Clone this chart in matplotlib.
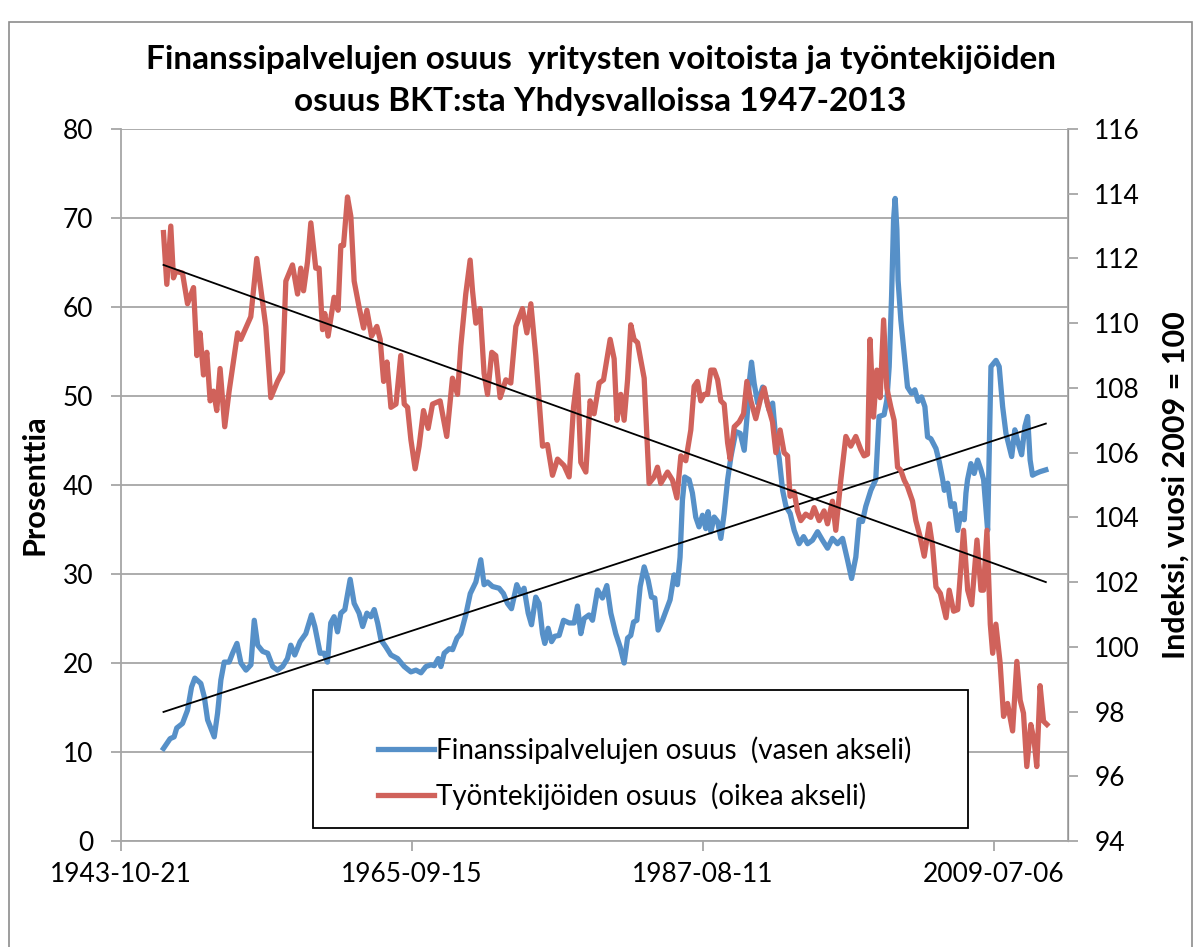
import numpy as np
import matplotlib
matplotlib.use("Agg")
import matplotlib.pyplot as plt
import matplotlib.dates as mdates
from matplotlib.patches import Rectangle
from datetime import datetime

plt.rcParams["font.family"] = ["Lato", "DejaVu Sans"]

# data (decimal year, value)
fin_years = [
    1947.00, 1947.50, 1947.80, 1948.00, 1948.43, 1948.81, 1949.11, 1949.36, 1949.81, 1950.07,
    1950.32, 1950.56, 1950.82, 1951.07, 1951.32, 1951.57, 1951.94, 1952.20, 1952.53, 1952.83,
    1953.21, 1953.58, 1953.83, 1954.09, 1954.47, 1954.84, 1955.22, 1955.58, 1955.96, 1956.33,
    1956.58, 1956.88, 1957.28, 1957.71, 1958.14, 1958.39, 1958.79, 1959.09, 1959.34, 1959.59,
    1959.84, 1960.10, 1960.35, 1960.65, 1961.05, 1961.35, 1961.72, 1961.99, 1962.31, 1962.61,
    1962.86, 1963.12, 1963.37, 1963.74, 1964.12, 1964.62, 1965.12, 1965.62, 1966.00, 1966.38,
    1966.75, 1967.13, 1967.38, 1967.68, 1967.88, 1968.13, 1968.51, 1968.76, 1969.09, 1969.38,
    1969.75, 1970.09, 1970.51, 1970.88, 1971.13, 1971.39, 1971.76, 1972.26, 1972.59, 1972.89,
    1973.19, 1973.59, 1973.89, 1974.14, 1974.45, 1974.70, 1975.02, 1975.27, 1975.53, 1975.70,
    1975.95, 1976.21, 1976.45, 1976.78, 1977.11, 1977.53, 1977.91, 1978.16, 1978.41, 1978.66,
    1979.03, 1979.29, 1979.67, 1980.04, 1980.37, 1980.67, 1981.04, 1981.37, 1981.67, 1981.93,
    1982.17, 1982.38, 1982.63, 1982.88, 1983.18, 1983.48, 1983.73, 1983.98, 1984.23, 1984.56,
    1984.81, 1985.13, 1985.43, 1985.68, 1985.88, 1986.06, 1986.23, 1986.56, 1986.81, 1987.06,
    1987.31, 1987.57, 1987.82, 1987.99, 1988.20, 1988.45, 1988.71, 1988.95, 1989.20, 1989.46,
    1989.71, 1990.08, 1990.41, 1990.71, 1990.96, 1991.08, 1991.26, 1991.46, 1991.72, 1992.10,
    1992.34, 1992.59, 1992.85, 1993.09, 1993.34, 1993.60, 1993.85, 1994.17, 1994.47, 1994.84,
    1995.18, 1995.48, 1995.85, 1996.23, 1996.60, 1996.98, 1997.35, 1997.73, 1998.11, 1998.48,
    1998.79, 1999.11, 1999.36, 1999.61, 1999.86, 2000.24, 2000.61, 2000.86, 2001.24, 2001.45,
    2001.62, 2001.80, 2001.95, 2002.07, 2002.20, 2002.29, 2002.50, 2002.75, 2003.00, 2003.30,
    2003.55, 2003.80, 2004.06, 2004.31, 2004.51, 2004.76, 2005.14, 2005.39, 2005.65, 2005.77,
    2006.02, 2006.27, 2006.52, 2006.78, 2007.02, 2007.27, 2007.40, 2007.52, 2007.77, 2008.02,
    2008.28, 2008.53, 2008.73, 2009.03, 2009.28, 2009.66, 2009.90, 2010.16, 2010.41, 2010.66,
    2010.84, 2011.08, 2011.33, 2011.59, 2011.84, 2012.04, 2012.23, 2012.41, 2012.66, 2012.98,
    2013.41,
]
fin_share = [
    10.4, 11.5, 11.7, 12.7, 13.2, 14.7, 17.3, 18.3, 17.7, 16.2,
    13.6, 12.7, 11.7, 14.35, 18.1, 20.1, 20.1, 21.1, 22.2, 20.0,
    19.2, 19.8, 24.8, 22.0, 21.3, 21.1, 19.6, 19.2, 19.6, 20.5,
    22.0, 20.9, 22.4, 23.3, 25.4, 24.1, 21.1, 21.1, 20.1, 24.5,
    25.2, 23.5, 25.6, 26.0, 29.4, 26.7, 25.6, 24.1, 25.6, 25.2,
    26.0, 24.5, 22.6, 21.8, 20.9, 20.5, 19.6, 19.0, 19.2, 18.9,
    19.6, 19.8, 19.7, 20.5, 19.6, 21.1, 21.6, 21.5, 22.8, 23.3,
    25.4, 27.8, 29.1, 31.6, 28.8, 29.1, 28.6, 28.4, 27.8, 26.7,
    26.1, 28.8, 27.8, 28.4, 25.6, 24.3, 27.4, 26.7, 23.3, 22.2,
    23.9, 22.4, 23.0, 23.1, 24.8, 24.5, 24.5, 26.4, 23.3, 25.0,
    25.4, 24.8, 28.2, 27.3, 28.7, 25.6, 23.3, 21.8, 20.0, 22.8,
    23.1, 24.6, 24.8, 28.6, 30.8, 29.3, 27.4, 27.3, 23.7, 24.8,
    25.8, 27.1, 29.9, 28.8, 31.9, 38.3, 40.9, 40.6, 39.1, 36.4,
    35.3, 36.6, 35.1, 37.0, 34.75, 36.4, 35.9, 34.0, 36.8, 40.6,
    43.2, 46.0, 45.8, 43.9, 48.4, 51.4, 53.8, 51.4, 49.2, 51.0,
    49.9, 48.4, 49.2, 45.1, 43.0, 39.4, 37.6, 36.8, 34.9, 33.4,
    34.2, 33.4, 33.8, 34.75, 33.8, 32.9, 34.0, 33.4, 34.0, 31.6,
    29.5, 31.9, 36.1, 35.9, 37.6, 39.4, 40.6, 47.7, 47.9, 49.6,
    53.3, 61.2, 69.8, 72.2, 68.7, 63.0, 58.5, 54.8, 51.0, 50.3,
    50.7, 49.4, 49.9, 48.8, 45.4, 45.2, 44.1, 42.6, 40.6, 39.4,
    40.2, 37.6, 37.9, 34.9, 36.8, 36.1, 39.1, 40.6, 42.4, 41.3,
    42.8, 41.7, 40.6, 34.9, 53.3, 54.0, 53.3, 48.8, 45.8, 44.3,
    43.2, 46.2, 44.7, 43.4, 46.6, 47.7, 42.8, 41.1, 41.3, 41.5,
    41.7,
]

lab_years = [
    1947.00, 1947.25, 1947.55, 1947.75, 1947.93, 1948.43, 1948.81, 1949.26, 1949.51, 1949.75,
    1950.01, 1950.26, 1950.51, 1950.76, 1951.01, 1951.26, 1951.61, 1951.94, 1952.58, 1952.82,
    1953.57, 1954.02, 1954.70, 1955.08, 1955.58, 1955.96, 1956.21, 1956.71, 1957.09, 1957.33,
    1957.54, 1957.84, 1958.09, 1958.46, 1958.71, 1958.97, 1959.14, 1959.39, 1959.84, 1960.14,
    1960.35, 1960.55, 1960.85, 1961.10, 1961.35, 1961.72, 1962.06, 1962.31, 1962.66, 1963.06,
    1963.31, 1963.57, 1963.82, 1964.12, 1964.50, 1964.86, 1965.12, 1965.37, 1965.62, 1965.94,
    1966.24, 1966.57, 1966.92, 1967.25, 1967.82, 1968.32, 1968.75, 1969.13, 1969.38, 1969.75,
    1970.08, 1970.26, 1970.51, 1970.83, 1971.13, 1971.39, 1971.71, 1972.01, 1972.34, 1972.77,
    1973.14, 1973.52, 1974.02, 1974.35, 1974.65, 1975.02, 1975.53, 1975.90, 1976.28, 1976.66,
    1977.15, 1977.53, 1977.86, 1978.16, 1978.41, 1978.79, 1979.11, 1979.41, 1979.79, 1980.12,
    1980.62, 1980.92, 1981.13, 1981.42, 1981.67, 1981.93, 1982.17, 1982.42, 1982.68, 1983.18,
    1983.55, 1983.93, 1984.18, 1984.43, 1984.94, 1985.31, 1985.64, 1985.94, 1986.31, 1986.69,
    1986.94, 1987.19, 1987.44, 1987.69, 1987.95, 1988.20, 1988.45, 1988.71, 1988.95, 1989.20,
    1989.46, 1989.65, 1989.96, 1990.33, 1990.66, 1990.91, 1991.21, 1991.58, 1991.96, 1992.21,
    1992.46, 1992.84, 1993.09, 1993.41, 1993.71, 1993.97, 1994.16, 1994.46, 1994.72, 1994.97,
    1995.34, 1995.72, 1995.97, 1996.35, 1996.72, 1996.98, 1997.35, 1997.60, 1997.98, 1998.36,
    1998.73, 1999.11, 1999.48, 1999.73, 1999.99, 2000.18, 2000.44, 2000.69, 2000.94, 2001.20,
    2001.44, 2001.75, 2001.99, 2002.25, 2002.50, 2002.75, 2003.00, 2003.38, 2003.63, 2003.95,
    2004.26, 2004.64, 2004.89, 2005.14, 2005.47, 2005.90, 2006.14, 2006.47, 2006.78, 2007.22,
    2007.53, 2007.83, 2008.23, 2008.53, 2008.72, 2008.98, 2009.23, 2009.41, 2009.65, 2009.97,
    2010.23, 2010.53, 2010.91, 2011.23, 2011.48, 2011.73, 2011.98, 2012.28, 2012.53, 2012.73,
    2012.98, 2013.24, 2013.49,
]
labor_index = [
    112.8, 111.2, 113.0, 111.4, 111.6, 111.55, 110.6, 111.1, 109.0, 109.7,
    108.4, 109.1, 107.6, 107.9, 107.3, 108.6, 106.8, 107.9, 109.7, 109.5,
    110.2, 112.0, 109.9, 107.7, 108.2, 108.5, 111.3, 111.8, 110.9, 111.7,
    111.0, 111.9, 113.1, 111.7, 111.7, 109.8, 110.3, 109.6, 110.8, 110.4,
    112.4, 112.4, 113.9, 113.3, 111.3, 110.5, 109.85, 110.4, 109.6, 109.9,
    109.5, 108.2, 108.8, 107.4, 107.5, 109.0, 107.5, 107.4, 106.4, 105.5,
    106.2, 107.3, 106.75, 107.5, 107.6, 106.5, 108.3, 107.8, 109.3, 110.9,
    111.95, 111.0, 110.0, 110.45, 108.45, 107.8, 109.1, 109.0, 107.7, 108.25,
    108.15, 109.9, 110.45, 109.7, 110.6, 109.0, 106.2, 106.25, 105.3, 105.8,
    105.6, 105.25, 107.4, 108.4, 105.7, 105.4, 107.6, 107.2, 108.15, 108.25,
    109.5, 108.9, 107.0, 107.8, 107.0, 108.25, 109.95, 109.5, 109.4, 108.3,
    105.05, 105.25, 105.55, 105.05, 105.4, 105.15, 104.6, 105.9, 105.75, 106.7,
    108.05, 108.2, 107.6, 107.8, 107.8, 108.55, 108.55, 108.25, 107.6, 107.5,
    106.3, 105.8, 106.8, 106.95, 107.2, 108.2, 107.6, 107.05, 107.7, 108.0,
    107.5, 106.95, 106.0, 106.7, 106.0, 105.9, 104.65, 104.8, 104.2, 103.9,
    104.1, 104.0, 104.3, 103.9, 104.2, 103.8, 104.5, 103.6, 105.15, 106.5,
    106.2, 106.5, 106.1, 105.9, 105.95, 109.5, 107.1, 108.55, 107.7, 110.1,
    108.0, 107.4, 107.0, 105.55, 105.45, 105.15, 104.95, 104.5, 103.9, 103.4,
    102.8, 103.8, 103.1, 101.85, 101.65, 100.9, 101.75, 101.1, 101.15, 103.6,
    101.75, 101.3, 103.3, 101.75, 101.75, 103.6, 100.7, 99.8, 100.7, 99.5,
    97.85, 98.25, 97.4, 99.55, 98.35, 97.95, 96.3, 97.6, 97.1, 96.3,
    98.8, 97.7, 97.6,
]

# linear trend end points
trend_years = [1947.0, 2013.41]
fin_trend = [14.5, 46.9]
lab_trend = [111.8, 102.0]

title = ("Finanssipalvelujen osuus  yritysten voitoista ja työntekijöiden\n"
         "osuus BKT:sta Yhdysvalloissa 1947-2013")
fin_label = "Finanssipalvelujen osuus  (vasen akseli)"
lab_label = "Työntekijöiden osuus  (oikea akseli)"

BLUE = "#5690c8"
RED = "#d0625b"
GRID = "#a6a6a6"


def to_num(years):
    out = []
    for y in years:
        base = int(y)
        out.append(mdates.date2num(datetime(base, 1, 1)) + (y - base) * 365.25)
    return np.array(out)


fig = plt.figure(figsize=(12.01, 9.47), dpi=100)
fig.patches.append(Rectangle((9 / 1201, -0.05), 1183 / 1201, 1.05 - 22 / 947,
                             transform=fig.transFigure, fill=False,
                             edgecolor="#8c8c8c", linewidth=1.2))

ax = fig.add_axes([121 / 1201, 1 - 841 / 947, (1068 - 121) / 1201, (841 - 129) / 947])
ax2 = ax.twinx()

ax.plot(to_num(fin_years), fin_share, color=BLUE, lw=3.8, solid_joinstyle="round",
        label=fin_label, zorder=3)
ax2.plot(to_num(lab_years), labor_index, color=RED, lw=3.8, solid_joinstyle="round",
         label=lab_label, zorder=3)
ax.plot(to_num(trend_years), fin_trend, color="black", lw=1.3, zorder=4)
ax2.plot(to_num(trend_years), lab_trend, color="black", lw=1.3, zorder=4)

start = mdates.date2num(datetime(1943, 10, 21))
ax.set_xlim(start, start + 8000 * (1068 - 121) / 291)
xt = [start + 8000 * k for k in range(4)]
ax.set_xticks(xt)
ax.set_xticklabels([mdates.num2date(t).strftime("%Y-%m-%d") for t in xt])

ax.set_ylim(0, 80)
ax.set_yticks(range(0, 81, 10))
ax2.set_ylim(94, 116)
ax2.set_yticks(range(94, 117, 2))

ax.grid(axis="y", color=GRID, lw=1.3)
ax.set_axisbelow(True)
ax.spines["top"].set_visible(False)
ax2.spines["top"].set_visible(False)
ax2.spines["left"].set_visible(False)
ax2.spines["bottom"].set_visible(False)
for sp in [ax.spines["left"], ax.spines["bottom"], ax2.spines["right"]]:
    sp.set_color(GRID)
    sp.set_linewidth(1.3)

ax.tick_params(axis="x", direction="out", length=7, color=GRID, width=1.3,
               labelsize=19, pad=8)
ax.tick_params(axis="y", direction="out", length=7, color=GRID, width=1.3,
               labelsize=19, pad=13)
ax2.tick_params(axis="y", direction="out", length=7, color=GRID, width=1.3,
                labelsize=19, pad=12)

ax.set_ylabel("Prosenttia", fontsize=22, fontweight="bold", labelpad=10)
ax2.set_ylabel("Indeksi, vuosi 2009 = 100", fontsize=22, fontweight="bold", labelpad=15)

fig.suptitle(title, fontsize=24, fontweight="bold", y=0.953, va="top", linespacing=1.58)

# legend box
ax2.add_patch(Rectangle(((313 - 121) / 947, (841 - 828) / 712), 655 / 947, 138 / 712,
                        transform=ax2.transAxes, facecolor="white", edgecolor="black",
                        linewidth=1.3, zorder=9))
h1, l1 = ax.get_legend_handles_labels()
h2, l2 = ax2.get_legend_handles_labels()
leg = ax2.legend(h1 + h2, l1 + l2, loc="upper left",
                 bbox_to_anchor=((378 - 121) / 947, (841 - 736) / 712),
                 fontsize=20, frameon=False, borderpad=0, labelspacing=0.68,
                 handlelength=2.0, handletextpad=0.1, borderaxespad=0)
leg.set_zorder(10)

fig.savefig("out.png", dpi=100)
